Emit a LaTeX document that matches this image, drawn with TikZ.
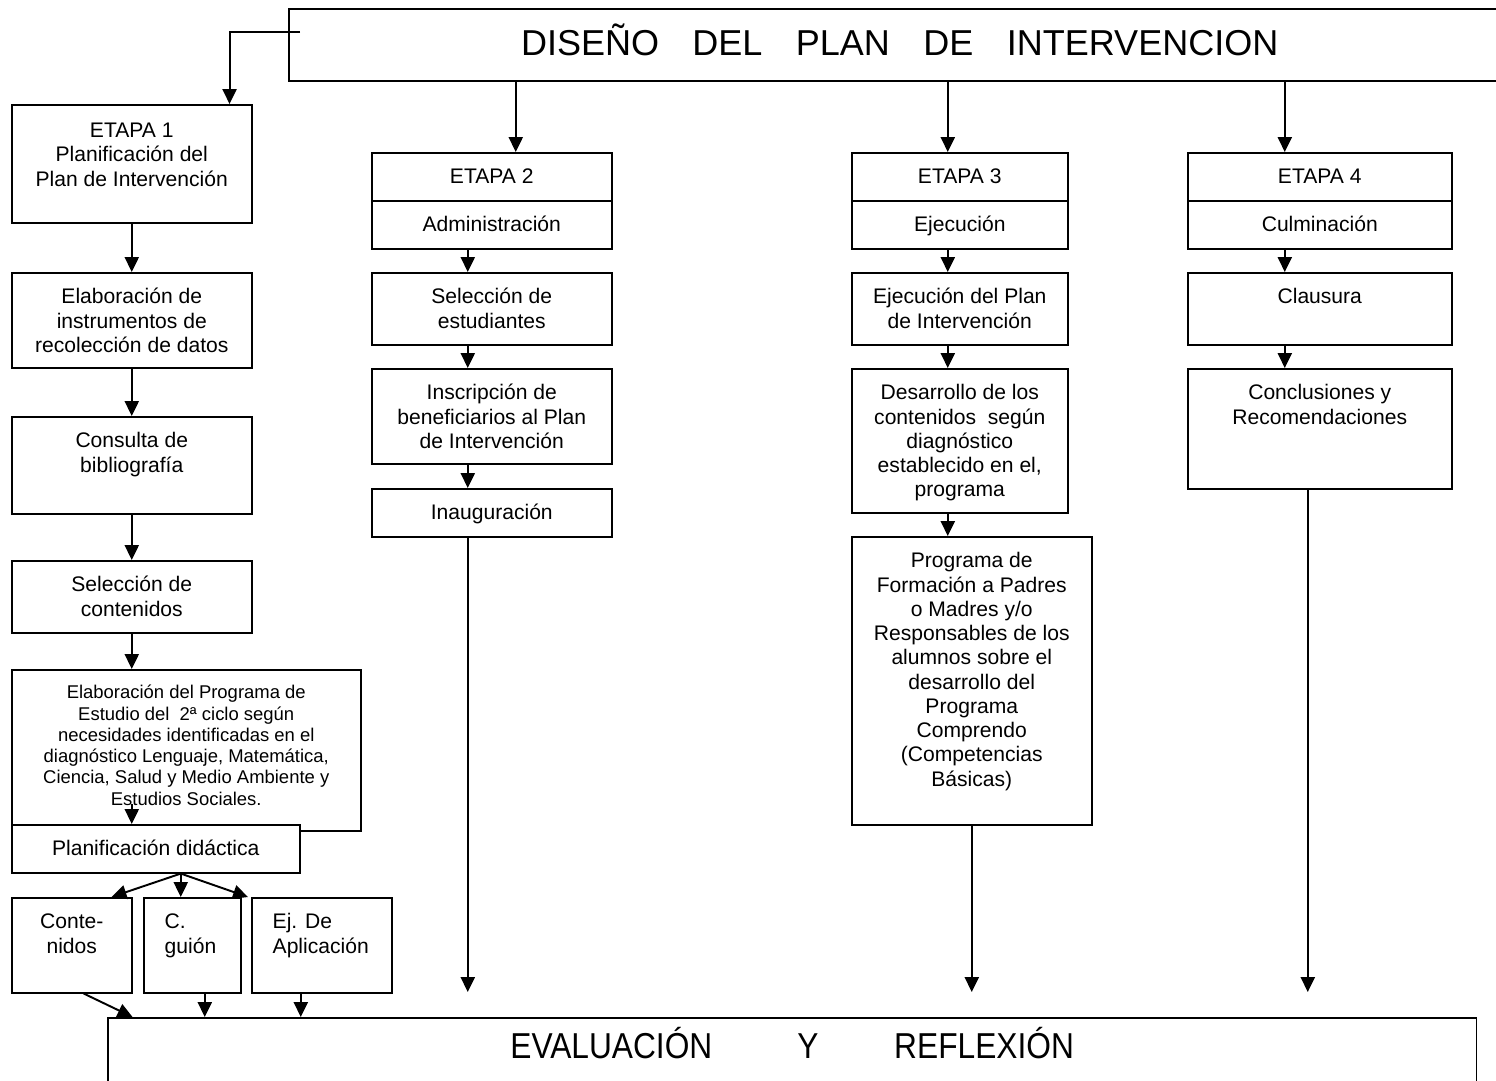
\documentclass[tikz,border=0pt]{standalone}
\usepackage{fontspec}
\setmainfont{Liberation Sans}
\usepackage{graphicx}
\usetikzlibrary{arrows.meta}

\newcommand\letranormal{\fontsize{12}{13.8}\selectfont}
\newcommand\letrachica{\fontsize{10.5}{12.1}\selectfont}
\newcommand\letragrande{\fontsize{20.5}{23.6}\selectfont}
\newcommand\izquierda{\raggedright\leftskip=11.9pt\relax}

\tikzset{
  toppad/.store in=\cajapad, toppad=8pt,
  alinea/.store in=\cajaalinea, alinea=\centering,
  caja/.style 2 args={draw, line width=0.9pt, fill=white, inner sep=0pt,
    anchor=north west, font=\letranormal,
    execute at begin node={\begin{minipage}[t][#2][t]{#1}\cajaalinea\vspace*{\cajapad}\strut},
    execute at end node={\end{minipage}}},
  cajaizq/.style 2 args={caja={#1}{#2}, alinea=\izquierda},
  flecha/.style={-{Triangle[length=8.5pt,width=8pt]}, line width=1.1pt}
}

\begin{document}
\begin{tikzpicture}[x=0.02cm, y=-0.02cm]
% one unit = one pixel of the page
  \useasboundingbox (0,0) rectangle (1496,1080);

% title
  \node[caja={24.44cm}{1.44cm}, font=\letragrande, toppad=8.4pt] (titulo) at (288,8)
       {DISEÑO\hspace{19pt}DEL\hspace{19pt}PLAN\hspace{19pt}DE\hspace{19pt}INTERVENCION};

% stage 1
  \node[caja={4.8cm}{2.36cm}, toppad=9pt] (etapa1) at (11,104) {ETAPA 1\\Planificación del\\Plan de Intervención};
  \node[caja={4.8cm}{1.9cm}]  (instrum)  at (11,272) {Elaboración de\\instrumentos de\\recolección de datos};
  \node[caja={4.8cm}{1.94cm}] (consulta) at (11,416) {Consulta de\\bibliografía};
  \node[caja={4.8cm}{1.44cm}] (selcont)  at (11,560) {Selección de\\contenidos};
  \node[caja={6.98cm}{3.22cm}, font=\letrachica] (progest) at (11,669)
       {Elaboración del Programa de\\Estudio del\ \ 2ª ciclo según\\necesidades identificadas en el\\diagnóstico Lenguaje, Matemática,\\Ciencia, Salud y Medio Ambiente y\\Estudios Sociales.};
  \node[caja={5.76cm}{0.96cm}] (planif) at (11,824) {Planificación didáctica};
  \node[caja={2.4cm}{1.9cm}]     (conte) at (11,897)  {Conte-\\nidos};
  \node[cajaizq={1.94cm}{1.9cm}] (guion) at (143,897) {C.\\guión};
  \node[cajaizq={2.8cm}{1.9cm}]  (ejapl) at (251,897) {Ej. De\\Aplicación};

% stage 2
  \node[caja={4.8cm}{0.96cm}] (etapa2) at (371,152) {ETAPA 2};
  \node[caja={4.8cm}{0.96cm}] (admin)  at (371,200) {Administración};
  \node[caja={4.8cm}{1.44cm}] (selest) at (371,272) {Selección de\\estudiantes};
  \node[caja={4.8cm}{1.9cm}]  (inscr)  at (371,368) {Inscripción de\\beneficiarios al Plan\\de Intervención};
  \node[caja={4.8cm}{0.96cm}] (inaug)  at (371,488) {Inauguración};

% stage 3
  \node[caja={4.32cm}{0.96cm}] (etapa3)   at (851,152) {ETAPA 3};
  \node[caja={4.32cm}{0.96cm}] (ejec)     at (851,200) {Ejecución};
  \node[caja={4.32cm}{1.44cm}] (ejecplan) at (851,272) {Ejecución del Plan\\de Intervención};
  \node[caja={4.32cm}{2.88cm}] (desarr)   at (851,368) {Desarrollo de los\\contenidos\ \ según\\diagnóstico\\establecido en el,\\programa};
  \node[caja={4.8cm}{5.76cm}]  (formacion) at (851,536)
       {Programa de\\Formación a Padres\\o Madres y/o\\Responsables de los\\alumnos sobre el\\desarrollo del\\Programa\\Comprendo\\(Competencias\\Básicas)};

% stage 4
  \node[caja={5.28cm}{0.96cm}] (etapa4)   at (1187,152) {ETAPA 4};
  \node[caja={5.28cm}{0.96cm}] (culm)     at (1187,200) {Culminación};
  \node[caja={5.28cm}{1.44cm}] (clausura) at (1187,272) {Clausura};
  \node[caja={5.28cm}{2.4cm}]  (conclus)  at (1187,368) {Conclusiones y\\Recomendaciones};

% evaluation
  \node[caja={27.38cm}{2cm}, font=\letragrande, toppad=5.4pt] (evaluac) at (107,1017)
       {\scalebox{0.88}[1]{EVALUACIÓN\hspace{55pt}Y\hspace{49pt}REFLEXIÓN}};

% arrows from the title
  \coordinate (inicio) at (300,32);
  \draw[flecha] (inicio) -| ([xshift=-0.46cm]etapa1.north east);
  \draw[flecha] ([xshift=0.48cm]etapa2.north |- titulo.south) -- ([xshift=0.48cm]etapa2.north);
  \draw[flecha] ([xshift=-0.24cm]etapa3.north |- titulo.south) -- ([xshift=-0.24cm]etapa3.north);
  \draw[flecha] ([xshift=-0.7cm]etapa4.north |- titulo.south) -- ([xshift=-0.7cm]etapa4.north);

% stage 1 chain
  \draw[flecha] (etapa1.south) -- (instrum.north);
  \draw[flecha] (instrum.south) -- (consulta.north);
  \draw[flecha] (consulta.south) -- (selcont.north);
  \draw[flecha] (selcont.south) -- (selcont.south |- progest.north);
  \draw[flecha] ([yshift=0.4cm]planif.north -| selcont.south) -- (planif.north -| selcont.south);
  \coordinate (abanico) at ([xshift=0.5cm]planif.south);
  \draw[flecha] (abanico) -- ([xshift=-0.42cm]conte.north east);
  \draw[flecha] (abanico) -- (abanico |- guion.north);
  \draw[flecha] (abanico) -- ([xshift=-0.06cm]ejapl.north west);
  \draw[flecha] ([xshift=0.24cm]conte.south) -- (conte.south east |- evaluac.north);
  \draw[flecha] ([xshift=0.25cm]guion.south) -- ([xshift=0.25cm]guion.south |- evaluac.north);
  \draw[flecha] ([xshift=-0.42cm]ejapl.south) -- ([xshift=-0.42cm]ejapl.south |- evaluac.north);

% stage 2 chain
  \draw[flecha] ([xshift=-0.48cm]admin.south) -- ([xshift=-0.48cm]selest.north);
  \draw[flecha] ([xshift=-0.48cm]selest.south) -- ([xshift=-0.48cm]inscr.north);
  \draw[flecha] ([xshift=-0.48cm]inscr.south) -- ([xshift=-0.48cm]inaug.north);
  \draw[flecha, shorten >=0.5cm] ([xshift=-0.48cm]inaug.south) -- ([xshift=-0.48cm]inaug.south |- evaluac.north);

% stage 3 chain
  \draw[flecha] ([xshift=-0.24cm]ejec.south) -- ([xshift=-0.24cm]ejecplan.north);
  \draw[flecha] ([xshift=-0.24cm]ejecplan.south) -- ([xshift=-0.24cm]desarr.north);
  \draw[flecha] ([xshift=-0.24cm]desarr.south) -- ([xshift=-0.24cm]desarr.south |- formacion.north);
  \draw[flecha, shorten >=0.5cm] (formacion.south) -- (formacion.south |- evaluac.north);

% stage 4 chain
  \draw[flecha] ([xshift=-0.7cm]culm.south) -- ([xshift=-0.7cm]clausura.north);
  \draw[flecha] ([xshift=-0.7cm]clausura.south) -- ([xshift=-0.7cm]conclus.north);
  \draw[flecha, shorten >=0.5cm] ([xshift=-0.24cm]conclus.south) -- ([xshift=-0.24cm]conclus.south |- evaluac.north);

\end{tikzpicture}
\end{document}
